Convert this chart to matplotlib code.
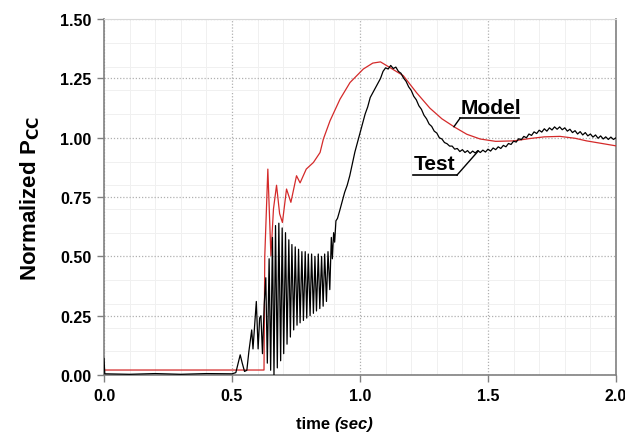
import matplotlib
matplotlib.use("Agg")
import matplotlib.pyplot as plt
import numpy as np
from matplotlib.ticker import MultipleLocator, FormatStrFormatter

plt.rcParams['font.family'] = ['Liberation Sans', 'DejaVu Sans']

# ---------------- data ----------------
model_t = [0.0, 0.625, 0.628, 0.640, 0.652, 0.662, 0.674, 0.686, 0.697, 0.713,
           0.730, 0.752, 0.766, 0.790, 0.818, 0.844, 0.857, 0.883, 0.922, 0.961,
           1.013, 1.050, 1.080, 1.117, 1.169, 1.221, 1.273, 1.320, 1.371, 1.417,
           1.469, 1.530, 1.600, 1.664, 1.720, 1.781, 1.840, 1.885, 1.940, 2.000]
model_v = [0.021, 0.021, 0.50, 0.868, 0.503, 0.70, 0.80, 0.68, 0.643, 0.784,
           0.728, 0.84, 0.81, 0.868, 0.896, 0.938, 0.995, 1.072, 1.163, 1.233,
           1.29, 1.315, 1.32, 1.296, 1.262, 1.19, 1.125, 1.08, 1.044, 1.015,
           0.995, 0.985, 0.987, 0.997, 1.004, 1.006, 0.998, 0.987, 0.977, 0.966]

test_t = [0.000, 0.003, 0.100, 0.200, 0.300, 0.400, 0.500, 0.515, 0.524, 0.532,
          0.540, 0.549, 0.558, 0.566, 0.572, 0.577, 0.582, 0.588, 0.595, 0.602,
          0.608, 0.613, 0.619, 0.626,
          0.632, 0.638, 0.645, 0.651, 0.658, 0.664, 0.670, 0.677, 0.683, 0.690,
          0.696, 0.702, 0.709, 0.715, 0.722, 0.728, 0.734, 0.741, 0.747, 0.754,
          0.760, 0.766, 0.773, 0.779, 0.786, 0.792, 0.798, 0.805, 0.811, 0.818,
          0.824, 0.830, 0.837, 0.843, 0.850, 0.856, 0.862, 0.869, 0.875, 0.882,
          0.888, 0.892, 0.897, 0.901, 0.906, 0.912, 0.920, 0.930, 0.940, 0.950,
          0.960, 0.970, 0.980, 0.990,
          1.00, 1.01, 1.02, 1.03, 1.04, 1.05, 1.06, 1.07, 1.08, 1.09,
          1.10, 1.11, 1.12, 1.13, 1.14, 1.15, 1.16, 1.17, 1.18, 1.19,
          1.20, 1.21, 1.22, 1.23, 1.24, 1.25, 1.26, 1.27, 1.28, 1.29,
          1.30, 1.31, 1.32, 1.33, 1.34, 1.35, 1.36, 1.37, 1.38, 1.39,
          1.40, 1.41, 1.42, 1.43, 1.44, 1.45, 1.46, 1.47, 1.48, 1.49,
          1.50, 1.51, 1.52, 1.53, 1.54, 1.55, 1.56, 1.57, 1.58, 1.59,
          1.60, 1.61, 1.62, 1.63, 1.64, 1.65, 1.66, 1.67, 1.68, 1.69,
          1.70, 1.71, 1.72, 1.73, 1.74, 1.75, 1.76, 1.77, 1.78, 1.79,
          1.80, 1.81, 1.82, 1.83, 1.84, 1.85, 1.86, 1.87, 1.88, 1.89,
          1.90, 1.91, 1.92, 1.93, 1.94, 1.95, 1.96, 1.97, 1.98, 1.99, 2.00]
test_v = [0.07, 0.005, 0.003, 0.006, 0.003, 0.006, 0.005, 0.01, 0.05, 0.085,
          0.05, 0.015, 0.02, 0.10, 0.15, 0.19, 0.11, 0.20, 0.31, 0.11,
          0.24, 0.25, 0.09, 0.30,
          0.41, 0.05, 0.49, 0.02, 0.58, 0.00, 0.63, 0.03, 0.64, 0.06,
          0.62, 0.09, 0.60, 0.13, 0.57, 0.16, 0.55, 0.19, 0.54, 0.21,
          0.53, 0.22, 0.52, 0.23, 0.52, 0.24, 0.51, 0.25, 0.51, 0.26,
          0.50, 0.27, 0.51, 0.28, 0.50, 0.29, 0.51, 0.31, 0.52, 0.36,
          0.58, 0.49, 0.60, 0.56, 0.65, 0.66, 0.69, 0.73, 0.77, 0.80,
          0.84, 0.89, 0.94, 0.98,
          1.02, 1.06, 1.10, 1.13, 1.17, 1.19, 1.21, 1.23, 1.25, 1.28,
          1.295, 1.29, 1.305, 1.292, 1.298, 1.28, 1.272, 1.252, 1.238, 1.215,
          1.20, 1.175, 1.16, 1.135, 1.12, 1.095, 1.08, 1.058, 1.048, 1.028,
          1.02, 1.00, 0.995, 0.98, 0.975, 0.965, 0.965, 0.952, 0.955, 0.942,
          0.95, 0.938, 0.946, 0.934, 0.944, 0.936, 0.946, 0.938, 0.948, 0.94,
          0.952, 0.944, 0.957, 0.95, 0.962, 0.955, 0.968, 0.962, 0.976, 0.972,
          0.986, 0.982, 0.996, 0.992, 1.006, 1.00, 1.016, 1.01, 1.025, 1.018,
          1.032, 1.024, 1.038, 1.028, 1.042, 1.033, 1.046, 1.036, 1.046, 1.034,
          1.042, 1.028, 1.036, 1.022, 1.03, 1.016, 1.026, 1.012, 1.022, 1.008,
          1.016, 1.003, 1.012, 0.998, 1.008, 0.995, 1.004, 0.993, 1.003, 0.993, 1.00]

x_ticks = [0.0, 0.5, 1.0, 1.5, 2.0]
y_ticks = [0.00, 0.25, 0.50, 0.75, 1.00, 1.25, 1.50]

# ---------------- figure ----------------
fig = plt.figure(figsize=(6.25, 4.39), dpi=100)
ax = fig.add_axes([0.1664, 0.1435, 0.8192, 0.8105])

ax.set_xlim(0, 2.0)
ax.set_ylim(0, 1.5)
ax.set_xticks(x_ticks)
ax.set_yticks(y_ticks)
ax.xaxis.set_major_formatter(FormatStrFormatter('%.1f'))
ax.yaxis.set_major_formatter(FormatStrFormatter('%.2f'))
ax.xaxis.set_minor_locator(MultipleLocator(0.1))
ax.yaxis.set_minor_locator(MultipleLocator(0.1))

ax.grid(which='minor', color='#f0f0f0', linewidth=0.7, linestyle='-')
ax.grid(which='major', color='#b0b0b0', linewidth=0.9, linestyle=(0, (1, 1.5)))
ax.set_axisbelow(True)
ax.tick_params(which='minor', length=0)
ax.tick_params(which='major', direction='out', length=5, width=1, color='#808080',
               labelsize=11.5, pad=4)
for lab in ax.get_xticklabels() + ax.get_yticklabels():
    lab.set_fontweight('bold')

for s in ['left', 'bottom', 'right']:
    ax.spines[s].set_color('#808080')
    ax.spines[s].set_linewidth(1.2)
ax.spines['top'].set_color('#d8d8d8')
ax.spines['top'].set_linewidth(0.8)

ax.plot(model_t, model_v, color='#d42a2a', linewidth=0.9, zorder=3)
ax.plot(test_t, test_v, color='black', linewidth=0.9, zorder=4)

# labels with underline leaders
ax.text(1.393, 1.104, 'Model', fontsize=15, fontweight='bold', ha='left',
        va='baseline', zorder=5)
ax.plot([1.391, 1.621], [1.083, 1.083], color='black', lw=1.2, zorder=5)
mt = 1.367
ax.plot([1.391, mt], [1.083, np.interp(mt, model_t, model_v)], color='black',
        lw=1.0, zorder=5)

ax.text(1.209, 0.868, 'Test', fontsize=15, fontweight='bold', ha='left',
        va='baseline', zorder=5)
ax.plot([1.207, 1.379], [0.843, 0.843], color='black', lw=1.2, zorder=5)
tt = 1.462
ax.plot([1.379, tt], [0.843, np.interp(tt, test_t, test_v)], color='black',
        lw=1.0, zorder=5)

ax.set_ylabel(r'Normalized P$_{\mathbf{CC}}$', fontsize=16, fontweight='bold',
              labelpad=13)
fig.text(0.535, 0.022, 'time ', fontsize=12, fontweight='bold', ha='right',
         va='baseline')
fig.text(0.535, 0.022, '(sec)', fontsize=12, fontweight='bold', style='italic',
         ha='left', va='baseline')

fig.savefig('out.png', dpi=100)
